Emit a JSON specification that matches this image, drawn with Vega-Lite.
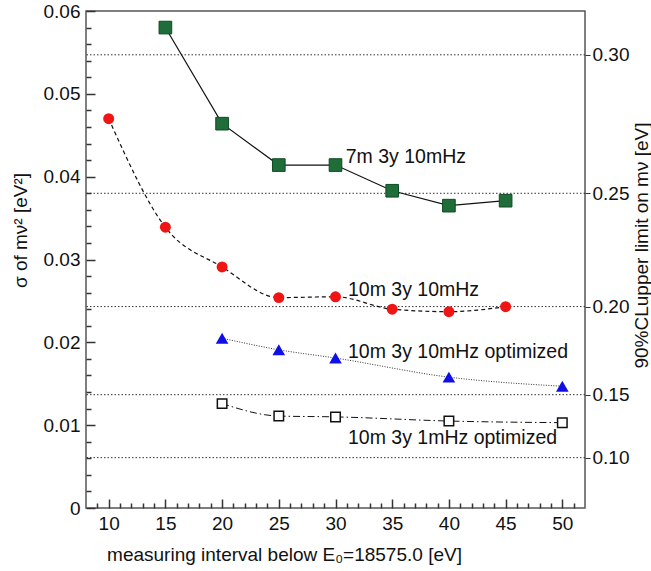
{
  "$schema": "https://vega.github.io/schema/vega-lite/v6.json",
  "width": 499,
  "height": 497,
  "autosize": "none",
  "padding": {"left": 86, "top": 11, "right": 66, "bottom": 63},
  "background": "white",
  "config": {
    "view": {"stroke": "#555555", "strokeWidth": 1.5},
    "font": "Liberation Sans",
    "axis": {"grid": false, "domain": false, "ticks": true, "zindex": 1, "labelFont": "Liberation Sans", "titleFont": "Liberation Sans", "labelColor": "#111111", "titleColor": "#111111", "labelFontSize": 19, "titleFontSize": 19, "titleFontWeight": "normal", "tickColor": "#333333", "tickWidth": 1.5}
  },
  "datasets": {
    "pts": [
      {"series": "7m 3y 10mHz", "interval": 15, "sigma": 0.0580},
      {"series": "7m 3y 10mHz", "interval": 20, "sigma": 0.0464},
      {"series": "7m 3y 10mHz", "interval": 25, "sigma": 0.0414},
      {"series": "7m 3y 10mHz", "interval": 30, "sigma": 0.0414},
      {"series": "7m 3y 10mHz", "interval": 35, "sigma": 0.0383},
      {"series": "7m 3y 10mHz", "interval": 40, "sigma": 0.0365},
      {"series": "7m 3y 10mHz", "interval": 45, "sigma": 0.0371},
      {"series": "10m 3y 10mHz", "interval": 10, "sigma": 0.0470},
      {"series": "10m 3y 10mHz", "interval": 15, "sigma": 0.0339},
      {"series": "10m 3y 10mHz", "interval": 20, "sigma": 0.0291},
      {"series": "10m 3y 10mHz", "interval": 25, "sigma": 0.0254},
      {"series": "10m 3y 10mHz", "interval": 30, "sigma": 0.0255},
      {"series": "10m 3y 10mHz", "interval": 35, "sigma": 0.0240},
      {"series": "10m 3y 10mHz", "interval": 40, "sigma": 0.0237},
      {"series": "10m 3y 10mHz", "interval": 45, "sigma": 0.0243},
      {"series": "10m 3y 10mHz optimized", "interval": 20, "sigma": 0.0205},
      {"series": "10m 3y 10mHz optimized", "interval": 25, "sigma": 0.0191},
      {"series": "10m 3y 10mHz optimized", "interval": 30, "sigma": 0.0181},
      {"series": "10m 3y 10mHz optimized", "interval": 40, "sigma": 0.0158},
      {"series": "10m 3y 10mHz optimized", "interval": 50, "sigma": 0.0147},
      {"series": "10m 3y 1mHz optimized", "interval": 20, "sigma": 0.0126},
      {"series": "10m 3y 1mHz optimized", "interval": 25, "sigma": 0.0111},
      {"series": "10m 3y 1mHz optimized", "interval": 30, "sigma": 0.0110},
      {"series": "10m 3y 1mHz optimized", "interval": 40, "sigma": 0.0105},
      {"series": "10m 3y 1mHz optimized", "interval": 50, "sigma": 0.0103}
    ],
    "labels": [
      {"label": "7m 3y 10mHz", "interval": 30.9, "sigma": 0.0424},
      {"label": "10m 3y 10mHz", "interval": 31.1, "sigma": 0.0263},
      {"label": "10m 3y 10mHz optimized", "interval": 31.1, "sigma": 0.0188},
      {"label": "10m 3y 1mHz optimized", "interval": 31.1, "sigma": 0.0085}
    ],
    "limits": [
      {"limit": 0.30, "sigma": 0.054711},
      {"limit": 0.25, "sigma": 0.037994},
      {"limit": 0.20, "sigma": 0.024316},
      {"limit": 0.15, "sigma": 0.013678},
      {"limit": 0.10, "sigma": 0.006079}
    ]
  },
  "resolve": {"scale": {"x": "independent", "y": "independent"}, "axis": {"x": "independent", "y": "independent"}},
  "layer": [
    {
      "data": {"name": "limits"},
      "mark": {"type": "rule", "strokeDash": [1.5, 2], "color": "#333333", "strokeWidth": 1},
      "encoding": {
        "y": {"field": "sigma", "type": "quantitative", "scale": {"domain": [0, 0.06], "nice": false, "zero": false},
          "axis": {"orient": "right", "values": [0.054711, 0.037994, 0.024316, 0.013678, 0.006079],
            "labelExpr": "format(sqrt(datum.value*1.645), '.2f')", "tickSize": 5, "tickWidth": 1, "labelPadding": 2,
            "title": "90%CLupper limit on mν [eV]", "titleAngle": -90, "titleX": 56, "titleY": 234, "titleAlign": "center", "titleBaseline": "middle"}}
      }
    },
    {
      "data": {"name": "pts"},
      "mark": {"type": "point", "opacity": 0},
      "encoding": {
        "x": {"field": "interval", "type": "quantitative", "scale": {"domain": [8, 52], "nice": false, "zero": false},
          "axis": {"orient": "bottom", "offset": -5, "values": [9,11,12,13,14,16,17,18,19,21,22,23,24,26,27,28,29,31,32,33,34,36,37,38,39,41,42,43,44,46,47,48,49,51], "labels": false, "tickSize": 5, "title": null}},
        "y": {"field": "sigma", "type": "quantitative", "scale": {"domain": [0, 0.06], "nice": false, "zero": false},
          "axis": {"orient": "left", "offset": -5, "values": [0.002,0.004,0.006,0.008,0.012,0.014,0.016,0.018,0.022,0.024,0.026,0.028,0.032,0.034,0.036,0.038,0.042,0.044,0.046,0.048,0.052,0.054,0.056,0.058], "labels": false, "tickSize": 5, "title": null}}
      }
    },
    {
      "data": {"name": "pts"},
      "mark": {"type": "point", "opacity": 0},
      "encoding": {
        "x": {"field": "interval", "type": "quantitative", "scale": {"domain": [8, 52], "nice": false, "zero": false},
          "axis": {"orient": "bottom", "offset": -9, "values": [10, 15, 20, 25, 30, 35, 40, 45, 50], "tickSize": 9, "labelPadding": 6,
            "title": "measuring interval below E₀=18575.0 [eV]", "titleX": 198, "titleY": 61, "titleAlign": "center", "titleBaseline": "alphabetic"}},
        "y": {"field": "sigma", "type": "quantitative", "scale": {"domain": [0, 0.06], "nice": false, "zero": false},
          "axis": {"orient": "left", "offset": -9, "values": [0, 0.01, 0.02, 0.03, 0.04, 0.05, 0.06], "tickSize": 9, "labelPadding": 6,
            "labelExpr": "datum.value == 0 ? '0' : format(datum.value, '.2f')",
            "title": "σ of mν² [eV²]", "titleX": -75, "titleY": 219, "titleAlign": "center", "titleBaseline": "middle", "titleAngle": -90}}
      }
    },
    {
      "data": {"name": "pts"},
      "encoding": {
        "x": {"field": "interval", "type": "quantitative", "scale": {"domain": [8, 52], "nice": false, "zero": false}, "axis": null},
        "y": {"field": "sigma", "type": "quantitative", "scale": {"domain": [0, 0.06], "nice": false, "zero": false}, "axis": null}
      },
      "layer": [
        {"transform": [{"filter": "datum.series == '7m 3y 10mHz'"}], "mark": {"type": "line", "color": "#111111", "strokeWidth": 1.2}},
        {"transform": [{"filter": "datum.series == '10m 3y 10mHz'"}], "mark": {"type": "line", "color": "#111111", "strokeWidth": 1.2, "strokeDash": [4, 3], "interpolate": "monotone"}},
        {"transform": [{"filter": "datum.series == '10m 3y 10mHz optimized'"}], "mark": {"type": "line", "color": "#333333", "strokeWidth": 1, "strokeDash": [1, 1.5], "interpolate": "monotone"}},
        {"transform": [{"filter": "datum.series == '10m 3y 1mHz optimized'"}], "mark": {"type": "line", "color": "#111111", "strokeWidth": 1, "strokeDash": [7, 3, 1.5, 3], "interpolate": "monotone"}},
        {"transform": [{"filter": "datum.series == '7m 3y 10mHz'"}], "mark": {"type": "point", "shape": "square", "size": 160, "filled": true, "color": "#1f6e3a", "stroke": "#0e4a22", "strokeWidth": 1, "opacity": 1}},
        {"transform": [{"filter": "datum.series == '10m 3y 10mHz'"}], "mark": {"type": "point", "shape": "circle", "size": 120, "filled": true, "color": "#f01414", "opacity": 1}},
        {"transform": [{"filter": "datum.series == '10m 3y 10mHz optimized'"}], "mark": {"type": "point", "shape": "triangle-up", "size": 160, "filled": true, "color": "#1010e6", "opacity": 1}},
        {"transform": [{"filter": "datum.series == '10m 3y 1mHz optimized'"}], "mark": {"type": "point", "shape": "square", "size": 90, "filled": true, "fill": "white", "stroke": "#111111", "strokeWidth": 1.5, "opacity": 1}},
        {"data": {"name": "labels"}, "mark": {"type": "text", "align": "left", "baseline": "middle", "fontSize": 19.5, "font": "Liberation Sans", "color": "#111111"},
          "encoding": {"text": {"field": "label", "type": "nominal"}}}
      ]
    }
  ]
}
